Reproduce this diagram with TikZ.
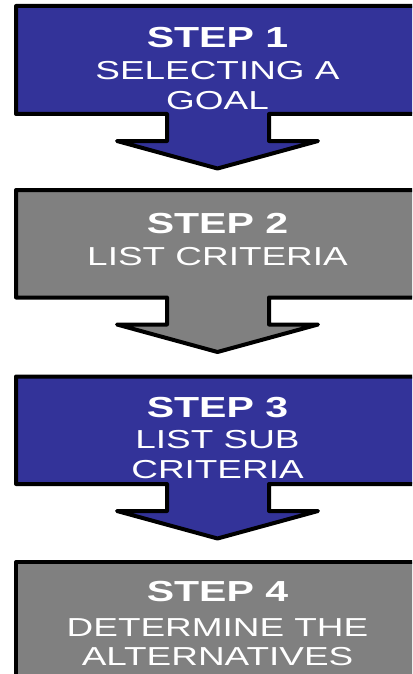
\documentclass[tikz,border=0pt]{standalone}
\usepackage{fontspec}
\setmainfont{Liberation Sans}
\definecolor{stepblue}{RGB}{51,51,153}
\definecolor{stepgrey}{RGB}{128,128,128}
\tikzset{
  callout/.style={draw=black, line width=4pt, line join=round},
  steptitle/.style={anchor=base, text=white, inner sep=0pt, xscale=1.415,
    font=\fontsize{29}{30}\selectfont\bfseries},
  steptext/.style={anchor=base, text=white, inner sep=0pt, xscale=1.42,
    font=\fontsize{26}{30}\selectfont},
}
% box with a downward arrow below it: fill colour, top edge, bottom edge
\newcommand{\stepcallout}[3]{%
  \path[callout, fill=#1] (16,#2) -- (419,#2) -- (419,#3) -- (269,#3)
    -- (269,#3+27) -- (318,#3+27) -- (217.5,#3+54.5) -- (117,#3+27)
    -- (167,#3+27) -- (167,#3) -- (16,#3) -- cycle;
}
\begin{document}
\begin{tikzpicture}[x=1pt,y=-1pt]
  \useasboundingbox (0,0) rectangle (412,674);
  \clip (0,0) rectangle (412,674);

  % step 1
  \stepcallout{stepblue}{6}{114}
  \node[steptitle] (s1title) at (217.5,47.5) {STEP 1};
  \node[steptext] (s1a) at (217.5,80) {SELECTING A};
  \node[steptext] (s1b) at (217.5,110) {GOAL};

  % step 2
  \stepcallout{stepgrey}{190}{297.5}
  \node[steptitle] (s2title) at (217.5,233.3) {STEP 2};
  \node[steptext] (s2a) at (217.5,265) {LIST CRITERIA};

  % step 3
  \stepcallout{stepblue}{376.5}{484}
  \node[steptitle] (s3title) at (217.5,417.3) {STEP 3};
  \node[steptext] (s3a) at (217.5,448.3) {LIST SUB};
  \node[steptext] (s3b) at (217.5,478.3) {CRITERIA};

  % step 4
  \path[callout, fill=stepgrey] (16,562) rectangle (419,700);
  \node[steptitle] (s4title) at (217.5,601.7) {STEP 4};
  \node[steptext] (s4a) at (217.5,636) {DETERMINE THE};
  \node[steptext] (s4b) at (217.5,665) {ALTERNATIVES};
\end{tikzpicture}
\end{document}
